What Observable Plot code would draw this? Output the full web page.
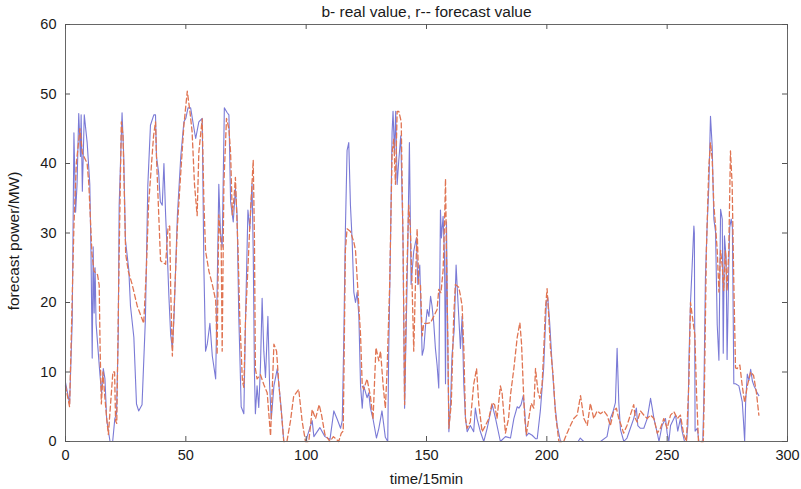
<!DOCTYPE html>
<html>
<head>
<meta charset="utf-8">
<script src="https://cdn.jsdelivr.net/npm/d3@7"></script>
<script src="https://cdn.jsdelivr.net/npm/@observablehq/plot@0.6"></script>
<style>
  html, body { margin: 0; padding: 0; background: #fff; }
  #chart { width: 801px; height: 489px; }
</style>
</head>
<body>
<div id="chart"></div>
<script>
const title = "b- real value, r-- forecast value";
const xLabel = "time/15min";
const yLabel = "forecast power/MW)";
const xTicks = [0, 50, 100, 150, 200, 250, 300];
const yTicks = [0, 10, 20, 30, 40, 50, 60];

// real value (blue solid): [time, MW]
const realT = [0,1.7,2.8,3.5,4.2,4.8,5.5,6.2,6.5,7.0,7.8,9,10.1,10.6,11.1,11.5,11.9,12.3,12.7,14.3,15.0,15.7,16.4,17.1,18.5,19.6,20.5,21.2,21.9,22.3,23.5,24.2,24.9,26.3,27,28.4,29.5,30.4,31.8,33.2,34.2,35.3,36.7,37.4,37.8,38.7,39.4,40.2,40.9,41.6,42.3,43,43.7,44.4,45.1,46.5,47.9,49.2,50,50.9,52,53.4,54.1,55.4,56.8,57.5,58.2,58.9,60,61,62.4,63,63.7,64.4,65.1,66,67.2,67.9,68.6,69.7,70.6,71.3,72,72.4,73,74.1,74.8,75.8,76.6,77.5,78,78.5,78.9,79.6,80.3,81,81.7,82.4,83.1,84.1,84.8,85.5,86.6,88,89.4,90.7,95,100,100.4,102.5,103.2,105.7,107.8,109.9,111.5,112.9,114.3,115,115.6,116.3,117,117.7,118.4,119.1,119.8,120.5,121.2,121.9,122.6,123.3,123.9,125.3,126,126.7,127.8,129.2,130.2,131.5,132.9,133.9,134.3,135,135.7,136.1,136.7,137.2,137.8,138.5,139.3,140.2,140.9,142.2,142.9,143.6,144.7,145.8,146.4,147.2,148.2,148.9,149.6,150.3,151,151.7,152.3,153,153.7,154.4,155.1,155.8,156.2,156.9,157.5,157.9,158.3,158.9,159.3,160,160.6,161.5,162.3,162.7,163.4,164.1,164.8,165.5,166.2,166.9,168.2,169.6,170.3,171,172.4,173.8,175.2,177.3,178.7,180.7,182.8,184.9,186.3,187.7,188.4,189.3,190.2,190.8,191.5,192.5,193.9,195.3,196,197.3,198.7,199.8,200.4,201.2,202.2,203.3,204.3,205.7,213,213.9,215.3,222.3,225,226.4,227.5,228.5,229.2,229.9,230.6,232,233.3,234.7,236.1,237.2,237.8,238.9,240.3,241.7,243.1,243.8,244.5,245.9,246.6,247.9,249.3,250,250.7,251.4,252.8,253.5,254.4,255.5,256.2,257.2,258,258.6,259.1,259.7,260.4,261.1,261.3,261.6,262.5,263.2,264.8,265.2,265.9,266.6,267.3,268,268.7,269.4,270.1,270.8,271.5,272.2,272.9,273.3,273.8,274.5,274.9,275.6,276,276.6,277.1,277.7,278.4,279.8,281.2,281.7,282.2,282.6,283.3,284,284.7,285.4,286.1,286.8,287.4,288.1];
const realV = [8.5,5.4,17.4,44.4,33,37,47.2,41,47,36,47,43,37,27,12,28,18.5,25,17,9.7,7,10.5,9,3.2,0,0,3.3,4,15,34,47.3,41,29,24.7,19.5,15,5.4,4.4,5.3,17.6,36.8,45.5,47,47,41,38.7,34.5,34,40,32.6,27,20.6,15.3,13.4,18,32.6,41,46,46.5,48,48,45,43.6,46,46.5,25,13,14,17,12.3,9,21.5,37,30,28,48,47.3,47,34.5,31.6,36.4,32.6,18,13,5,4,17.5,33.3,30.6,37.1,27.4,10,4,8,4.9,10.7,20.6,13,9.2,18,8.2,3.2,8,10.5,5.6,0,0,0,0.7,3,0.7,2,0.7,0.3,4.4,3.2,1.9,3,14,30.5,41.9,43,34,29,21.5,20,21.5,18,8,4.8,8,6.3,7,4.8,3.2,0.5,1.9,4.4,0.6,0,13,27.5,44.5,47.5,41.5,47.5,37,40.5,44,30,4.8,27.5,43,22.6,27.4,29.3,22.6,25.4,12.4,13.4,16.7,19,18,20.9,19.5,17.1,13.4,11,7.7,33.3,29.3,32.4,26.5,8.3,31.6,12.3,1.4,5.5,12.4,16,25.4,22.6,18,13.4,18,8.2,3.3,1.4,2.3,1.4,4.8,3.3,1.4,0,1.9,5.3,3.3,0,0.7,0.5,3.3,5,4.8,5.3,6.6,4.4,0.8,1.2,0.9,0.4,0.4,4.4,10.7,20,20.7,17,11,5.5,2.3,0,0,0.5,0,0,0.7,3.3,4.3,5.6,13.4,5.6,1.7,0,0.5,1.9,3.3,4.8,2.3,1.9,1.9,3.3,6.2,4.8,3.3,1.2,0,2.3,3.3,1.2,0,2.3,3.3,3.8,1.5,3.3,1.5,0,0,2.3,12.5,20,25.4,31,30,1.5,1.9,0,0,5.5,23.6,31,36.7,46.8,42.5,32,30.2,16.8,11.7,33.4,32,12.7,29.6,26.4,11.8,25,30.8,32,30.8,8.3,8.3,8,5.7,3,0,5.6,9.7,8.8,10.4,8.7,8,7.5,7,6.6];

// forecast value (red dashed): [time, MW]
const fcT = [0,1.7,3.5,4.5,6,7,9,9.7,11,11.9,13.3,14,14.4,14.9,15.6,16.2,17.1,17.8,19.7,20.4,20.8,21.3,22.3,23.2,23.9,25,26.1,27.7,29.8,32.5,33.6,34.5,36.6,37.4,37.9,38.7,39.5,41.6,42.6,43.3,43.7,44.4,45.1,46.5,47.9,49.2,50.6,51.7,52.6,53.6,54.7,55.4,56.8,57.5,58.2,59.6,61,62.4,63,63.7,64.7,65.1,65.8,66.9,67.9,68.6,69.3,70,70.6,71.7,72.4,73.5,74.1,74.8,76.8,78,78.5,78.9,79.6,81,82.4,83.8,85.2,86.6,87.7,88.7,90,90.7,92,93.5,94.8,96.9,98.3,99.7,101.1,102.5,103.9,105.4,106.4,107.8,109.9,111.3,113.5,114.6,115.4,116.3,117,118.4,119.8,120.5,121.5,122.6,123.3,123.9,125.3,126.7,127.8,128.4,129,130.2,130.9,132,132.9,133.6,134.7,135.7,136.4,137.1,137.8,138.5,139.5,140.3,140.9,141.7,142.6,143.3,144,144.7,145.4,146.1,146.8,147.5,148.2,148.9,150.3,151.7,153,154.4,155.1,156,156.9,157.5,157.9,158.3,158.9,159.3,160.3,161.3,162,163.4,164.1,164.8,165.5,166.2,166.9,168.2,169.6,170.8,171.7,173.1,174.5,175.9,177.3,178.3,179.3,180.7,181.4,182.8,184.1,184.9,186.3,187.7,188.8,189.5,190.2,190.8,191.5,192.5,193.5,194.6,195.3,196.3,197.1,198,198.7,199.4,200.1,200.8,201.5,202.6,203.6,205,207,208.4,209.8,211.2,212.6,214,215.4,216.8,218.1,219.5,220.9,222.3,223.7,225,226.4,227.8,228.9,229.9,230.9,231.9,233.3,234.7,236.1,236.8,237.5,238.9,240.3,241.7,243.1,244.5,245.9,247.2,248.6,250,251.4,252.8,254.2,255.5,256.9,258,259,259.7,260.8,261.5,262.2,263,265,265.5,266.3,267.3,268,268.7,269.4,270.1,270.8,271.5,272.2,272.9,273.5,274.2,274.9,275.6,276.3,277,277.7,278.4,279.1,280.2,281.2,282.2,283.3,284.7,285.9,287.1,288.1];
const fcV = [8,5,31,40,45,41.5,40,37,27,24.5,24,22.5,13,5.4,10,7,3.4,1,10,10,3,2.6,27,46,44,27,24.5,22.6,19.5,17,24.7,34,44,46,40,33,26,25.5,30.8,31,22,12.3,19,31,38.7,45.5,50.4,47.5,44.6,37,32.5,41.6,46.4,34.5,27.4,24.5,22.6,20.3,12.5,32.6,28,13,37,46.5,45,41.6,32.6,35,38,27.6,18,8.7,7.8,17.5,32.6,40.5,29.5,10.5,9,9.6,8.2,7,0.8,14,13,8,3,0,0,3,6.5,7.5,3,0,0,4.6,3.3,5.3,3.8,1,0,0.7,0,1.2,1.5,27.5,30.6,30.2,28.7,27.5,21.7,15.3,8,7.5,9,6.5,3.2,8.5,13.5,11.6,13,8,4.8,10,22.6,41.5,43.5,37,47.5,47.5,46,27.5,5.3,22.6,34,30.6,22.6,13,22.6,30.6,22.6,22.6,15.2,17,17,17.1,18,19,21.9,21.4,24.6,31.6,37.8,27,13.4,1.9,5.5,18,22.6,22.2,21,19.5,13.4,3.3,1.9,2.8,8.2,10.5,5.5,1.4,2.3,3.3,5.6,5.3,3.3,8,7,1.2,3.3,6.7,10.5,15,17.1,14,8,3.3,1,3.3,5.5,4.8,10.5,7.2,6.2,8.1,13,19,22,18,13.4,9.6,4,0,0,1.2,2.3,3.3,3.8,6.6,3.3,2.3,5.5,3.3,4.4,4,4.4,3.8,2.3,4.4,4.8,3.3,2.3,1.2,2.3,3.8,5.3,3.3,2.8,4.4,3.8,3.3,3.8,3.3,1.2,1.9,3.3,1.9,3.8,4.3,3.3,3.8,1,0,8.2,20,17.1,15.3,7,0,0,8,27.5,39.5,43,40.6,34,31,27.5,21.5,27.5,25.2,21.7,27.5,21.7,27.5,41.8,37,22.6,10.6,10.5,11,8,5.6,8,10,9.5,7,3.8];

const real = realT.map((t, i) => ({t, v: realV[i]}));
const forecast = fcT.map((t, i) => ({t, v: fcV[i]}));

const W = 801, H = 489, mL = 65, mR = 14, mT = 24, mB = 48;
const fw = W - mL - mR, fh = H - mT - mB, tk = 5;
const font = "'Liberation Sans', Arial, Helvetica, sans-serif";

const chart = Plot.plot({
  width: W, height: H,
  marginLeft: mL, marginRight: mR, marginTop: mT, marginBottom: mB,
  style: {fontFamily: font, fontSize: "14.5px", color: "#1a1a1a", background: "#fff"},
  x: {domain: [0, 300]},
  y: {domain: [0, 60]},
  marks: [
    Plot.line(real, {x: "t", y: "v", stroke: "#6b6bd2", strokeWidth: 1.1, strokeOpacity: 0.9}),
    Plot.line(forecast, {x: "t", y: "v", stroke: "#e07452", strokeWidth: 1.3, strokeDasharray: "5,3"}),
    Plot.frame({stroke: "#666", strokeWidth: 1}),
    Plot.tickX(xTicks, {x: d => d, stroke: "#555", insetTop: fh - tk}),
    Plot.tickX(xTicks, {x: d => d, stroke: "#555", insetBottom: fh - tk}),
    Plot.tickY(yTicks, {y: d => d, stroke: "#555", insetRight: fw - tk}),
    Plot.tickY(yTicks, {y: d => d, stroke: "#555", insetLeft: fw - tk}),
    Plot.axisX({ticks: xTicks, tickSize: 0, tickPadding: 8, label: null, fontSize: 14.5}),
    Plot.axisY({ticks: yTicks, tickSize: 0, tickPadding: 9, label: null, fontSize: 14.5}),
    Plot.text([title], {frameAnchor: "top", lineAnchor: "middle", textAnchor: "middle", dy: -12, fontSize: 15.5, fill: "#1a1a1a"}),
    Plot.text([xLabel], {frameAnchor: "bottom", lineAnchor: "middle", textAnchor: "middle", dy: 37.5, fontSize: 15, fill: "#1a1a1a"}),
    Plot.text([yLabel], {frameAnchor: "left", lineAnchor: "middle", textAnchor: "middle", dx: -51, dy: 8, rotate: -90, fontSize: 15.5, fill: "#1a1a1a"})
  ]
});
document.getElementById("chart").appendChild(chart);
</script>
</body>
</html>
